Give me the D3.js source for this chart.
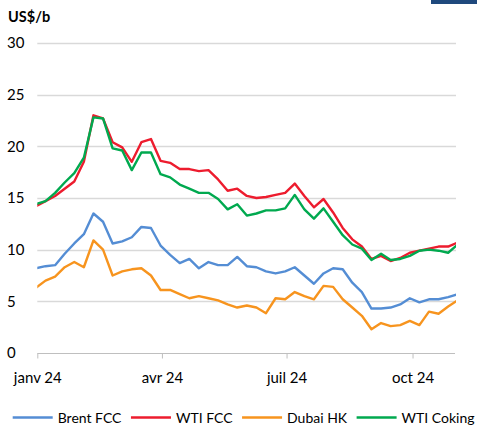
<!DOCTYPE html>
<meta charset="utf-8">
<html>
<head>
<style>
  body { margin: 0; background: #fff; }
  text { font-family: Lato, "Open Sans", sans-serif; fill: #000; }
</style>
</head>
<body>
<script src="https://d3js.org/d3.v7.min.js"></script>
<script>
  // weekly points, first week starts 31 dec 2023
  var firstWeek = "2023-12-31";

  var brentFCC = [8.2, 8.4, 8.5, 9.6, 10.6, 11.5, 13.5, 12.7, 10.6, 10.8, 11.2, 12.2, 12.1,
    10.4, 9.5, 8.7, 9.1, 8.2, 8.8, 8.5, 8.5, 9.3, 8.4, 8.3, 7.9, 7.7, 7.9, 8.3, 7.5, 6.7,
    7.7, 8.2, 8.1, 6.8, 5.9, 4.3, 4.3, 4.4, 4.7, 5.3, 4.9, 5.2, 5.2, 5.4, 5.7];
  var wtiFCC = [14.2, 14.7, 15.2, 15.9, 16.6, 18.5, 23.0, 22.7, 20.4, 19.9, 18.5, 20.4, 20.7,
    18.6, 18.4, 17.8, 17.8, 17.6, 17.7, 16.8, 15.7, 15.9, 15.2, 15.0, 15.1, 15.3, 15.5, 16.4, 15.2, 14.1,
    14.9, 13.6, 12.1, 11.0, 10.3, 9.1, 9.4, 8.9, 9.2, 9.7, 9.9, 10.1, 10.3, 10.3, 10.7];
  var dubaiHK = [6.3, 7.0, 7.4, 8.3, 8.8, 8.3, 10.9, 10.0, 7.5, 7.9, 8.1, 8.2, 7.5,
    6.1, 6.1, 5.7, 5.3, 5.5, 5.3, 5.1, 4.7, 4.4, 4.6, 4.4, 3.85, 5.3, 5.2, 5.9, 5.5, 5.2,
    6.5, 6.4, 5.2, 4.4, 3.6, 2.3, 2.9, 2.6, 2.7, 3.1, 2.7, 4.0, 3.8, 4.5, 5.1];
  var wtiCoking = [14.4, 14.7, 15.5, 16.5, 17.4, 18.9, 22.8, 22.7, 19.8, 19.6, 17.7, 19.4, 19.4,
    17.3, 17.0, 16.3, 15.9, 15.5, 15.5, 14.9, 13.9, 14.4, 13.3, 13.5, 13.8, 13.8, 14.0, 15.3, 13.9, 13.0,
    14.0, 12.7, 11.4, 10.5, 10.1, 9.0, 9.6, 9.0, 9.1, 9.4, 9.9, 10.0, 9.9, 9.7, 10.5];

  var seriesNames = ["Brent FCC", "WTI FCC", "Dubai HK", "WTI Coking"];
  var seriesColors = ["#548dd4", "#ed1c2e", "#f7941e", "#00a94f"];

  var yTicks = [0, 5, 10, 15, 20, 25, 30];
  var xTickDates = ["2024-01-01", "2024-04-01", "2024-07-01", "2024-10-01"];
  var xTickLabels = ["janv 24", "avr 24", "juil 24", "oct 24"];
  var xRange = ["2024-01-01", "2024-11-01"];

  var width = 477, height = 432;
  var plotL = 37.3, plotR = 455, plotT = 43, plotB = 353;

  var parse = d3.timeParse("%Y-%m-%d");
  var start = parse(firstWeek);
  var allSeries = [brentFCC, wtiFCC, dubaiHK, wtiCoking];

  var svg = d3.select("body").append("svg")
    .attr("width", width)
    .attr("height", height);

  var x = d3.scaleTime()
    .domain(xRange.map(parse))
    .range([plotL, plotR]);

  var y = d3.scaleLinear()
    .domain([0, 30])
    .range([plotB, plotT]);

  // corner mark
  svg.append("rect")
    .attr("x", 431).attr("y", 0)
    .attr("width", 46).attr("height", 4)
    .style("fill", "#1f497d");

  svg.append("text")
    .attr("x", 8).attr("y", 22)
    .style("font-size", "14.5px")
    .style("font-weight", "bold")
    .text("US$/b");

  // grid
  svg.append("g")
    .selectAll("line")
    .data(yTicks.filter(function (d) { return d > 0; }))
    .enter().append("line")
    .attr("x1", plotL).attr("x2", plotR + 1)
    .attr("y1", function (d) { return Math.round(y(d)) + 0.5; })
    .attr("y2", function (d) { return Math.round(y(d)) + 0.5; })
    .style("stroke", "#d9d9d9")
    .style("stroke-width", 1.3);

  svg.append("g")
    .selectAll("text")
    .data(yTicks)
    .enter().append("text")
    .attr("x", 7)
    .attr("y", function (d) { return y(d); })
    .attr("dy", "0.36em")
    .style("font-size", "15px")
    .text(function (d) { return d; });

  // x axis
  var xAxis = d3.axisBottom(x)
    .tickValues(xTickDates.map(parse))
    .tickSize(5)
    .tickFormat(function (d, i) { return xTickLabels[i]; });

  var gx = svg.append("g")
    .attr("transform", "translate(0," + (Math.round(plotB) + 0.5) + ")")
    .call(xAxis);
  gx.select(".domain").attr("d", "M" + plotL + ",0H" + plotR).style("stroke", "#bfbfbf");
  gx.selectAll(".tick line").style("stroke", "#bfbfbf");
  gx.selectAll(".tick text")
    .attr("y", 29)
    .attr("dy", 0)
    .style("font-family", "Lato, 'Open Sans', sans-serif")
    .style("font-size", "15px")
    .style("fill", "#000");

  svg.append("clipPath")
    .attr("id", "plot")
    .append("rect")
    .attr("x", plotL).attr("y", 0)
    .attr("width", plotR - plotL + 1).attr("height", plotB + 5);

  var line = d3.line()
    .x(function (d, i) { return x(d3.timeDay.offset(start, 7 * i)); })
    .y(function (d) { return y(d); });

  svg.append("g")
    .attr("clip-path", "url(#plot)")
    .selectAll("path")
    .data(allSeries)
    .enter().append("path")
    .attr("d", line)
    .style("fill", "none")
    .style("stroke", function (d, i) { return seriesColors[i]; })
    .style("stroke-width", 2.4)
    .style("stroke-linejoin", "round");

  // legend
  var lx = 12.7, ly = 417.5;
  seriesNames.forEach(function (name, i) {
    svg.append("line")
      .attr("x1", lx).attr("x2", lx + 40)
      .attr("y1", ly).attr("y2", ly)
      .style("stroke", seriesColors[i])
      .style("stroke-width", 2.4);
    var t = svg.append("text")
      .attr("x", lx + 45)
      .attr("y", ly)
      .attr("dy", "0.36em")
      .style("font-size", "14px")
      .text(name);
    lx = lx + 45 + t.node().getComputedTextLength() + 9.5;
  });
</script>
</body>
</html>
